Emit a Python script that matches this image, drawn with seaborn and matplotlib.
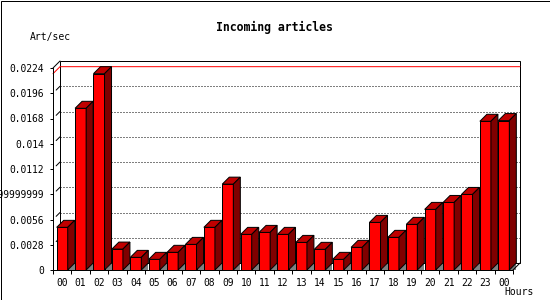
import matplotlib
matplotlib.use("Agg")
import matplotlib.pyplot as plt
import seaborn as sns
import numpy as np
import pandas as pd
from matplotlib.patches import Polygon, Rectangle

# ---- data ----
hour_labels = ["00", "01", "02", "03", "04", "05", "06", "07", "08", "09", "10", "11",
               "12", "13", "14", "15", "16", "17", "18", "19", "20", "21", "22", "23", "00"]
art_per_sec = [0.00473, 0.01793, 0.02177, 0.00232, 0.00140, 0.00118, 0.00196, 0.00284,
               0.00473, 0.00952, 0.00395, 0.00417, 0.00395, 0.00306, 0.00229, 0.00118,
               0.00251, 0.00528, 0.00362, 0.00506, 0.00672, 0.00749, 0.00838, 0.01649,
               0.01657]
y_ticks = [0, 0.0028, 0.0056, 0.0084, 0.0112, 0.014, 0.0168, 0.0196, 0.0224]
y_tick_labels = ["0", "0.0028", "0.0056", "0.0083999999999999", "0.0112", "0.014",
                 "0.0168", "0.0196", "0.0224"]
title = "Incoming articles"
y_title = "Art/sec"
x_title = "Hours"

sns.set_style("white")
plt.rcParams['font.family'] = ['DejaVu Sans Mono', 'DejaVu Sans']

W, H = 550, 300
fig = plt.figure(figsize=(W / 100, H / 100), dpi=100)
fig.patch.set_facecolor("white")

# front plane in pixels (from top-left)
fx0, fx1, fy_top, fy_bot = 53, 513, 68, 270
ax = fig.add_axes([fx0 / W, (H - fy_bot) / H, (fx1 - fx0) / W, (fy_bot - fy_top) / H])
ax.patch.set_alpha(0)

n = len(art_per_sec)
ymax = 0.0224
df = pd.DataFrame({"pos": np.arange(n), "value": art_per_sec})
sns.barplot(data=df, x="pos", y="value", color="#ff0000", saturation=1, width=0.6,
            edgecolor="black", linewidth=0.72, ax=ax, zorder=3)
ax.set_xlim(-0.5, n - 0.5)
ax.set_ylim(0, ymax)

# 3D depth offset (7 px) in data units
dx = 7 * n / (fx1 - fx0)
dy = 7 * ymax / (fy_bot - fy_top)
lw = 0.72

for sp in ax.spines.values():
    sp.set_visible(False)

# back plane box
ax.add_patch(Rectangle((-0.5 + dx, dy), n, ymax, facecolor="white", edgecolor="black",
                       lw=lw, zorder=0.5, clip_on=False))
# dotted grid lines on back plane
for v in y_ticks[1:-1]:
    ax.plot([-0.5 + dx, n - 0.5 + dx], [v + dy, v + dy], color="black", lw=lw,
            linestyle=(0, (1.0, 2.0)), zorder=0.6, clip_on=False)
    ax.plot([-0.5 + 0.45 * dx, -0.5 + dx], [v + 0.45 * dy, v + dy], color="black",
            lw=lw, zorder=0.6, clip_on=False)
# front left axis and bottom line
ax.plot([-0.5, -0.5], [0, ymax], color="black", lw=lw, zorder=4, clip_on=False)
ax.plot([-0.5, -0.5 + dx], [ymax, ymax + dy], color="black", lw=lw, zorder=0.7, clip_on=False)
ax.plot([-0.5, n - 0.5], [0, 0], color="black", lw=lw, zorder=4, clip_on=False)
ax.plot([n - 0.5, n - 0.5 + dx], [0, dy], color="black", lw=lw, zorder=4, clip_on=False)
# max line
mx = max(art_per_sec)
ax.plot([-0.5, -0.5 + dx, n - 0.5 + dx], [mx, mx + dy, mx + dy], color="#ff0000",
        lw=lw, zorder=0.8, clip_on=False)

# 3D faces for bars
for p in ax.patches:
    if not hasattr(p, "get_width") or p.get_zorder() != 3:
        continue
    x0, w, h = p.get_x(), p.get_width(), p.get_height()
    ax.add_patch(Polygon([(x0 + w, 0), (x0 + w + dx, 0), (x0 + w + dx, dy)], closed=True,
                         facecolor="#808080", edgecolor="none", zorder=2.5, clip_on=False))
    ax.add_patch(Polygon([(x0, h), (x0 + dx, h + dy), (x0 + w + dx, h + dy), (x0 + w, h)],
                         closed=True, facecolor="#c00000", edgecolor="black", lw=lw,
                         zorder=3.5, clip_on=False))
    ax.add_patch(Polygon([(x0 + w, 0), (x0 + w + dx, dy), (x0 + w + dx, h + dy), (x0 + w, h)],
                         closed=True, facecolor="#800000", edgecolor="black", lw=lw,
                         zorder=3.5, clip_on=False))

# ticks
ax.set_yticks(y_ticks)
ax.set_yticklabels(y_tick_labels, fontsize=6.9)
ax.set_xticks(np.arange(n))
ax.set_xticklabels(hour_labels, fontsize=6.9)
ax.set_xticks(np.arange(n + 1) - 0.5, minor=True)
ax.tick_params(axis="y", which="both", left=True, length=2.4, width=lw, pad=4,
               color="black", labelcolor="black")
ax.tick_params(axis="x", which="major", bottom=True, length=0, pad=5.5, labelcolor="black")
ax.tick_params(axis="x", which="minor", bottom=True, length=3, width=lw, color="black")
ax.set_xlabel("")
ax.set_ylabel("")

fig.text(274 / W, 1 - 27 / H, title, ha="center", va="center", fontsize=8.3,
         fontweight="bold", color="black")
fig.text(30 / W, 1 - 37 / H, y_title, ha="left", va="center", fontsize=7, color="black")
fig.text(504 / W, 1 - 292 / H, x_title, ha="left", va="center", fontsize=7, color="black")

fig.patches.append(Rectangle((0.5 / W, 0.5 / H), (W - 1) / W, (H - 1) / H,
                             transform=fig.transFigure, fill=False, edgecolor="black",
                             lw=lw, zorder=10))

fig.savefig("out.png", dpi=100)
